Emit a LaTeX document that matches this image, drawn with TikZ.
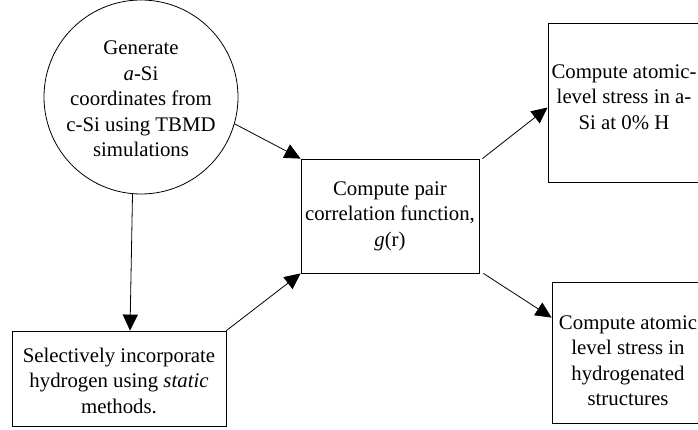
\documentclass[tikz,border=0pt]{standalone}
\usepackage{fontspec}
\setmainfont{Liberation Serif}
\usetikzlibrary{arrows.meta}
\tikzset{
  txt/.style={align=center, font=\fontsize{20.8pt}{25.5pt}\selectfont, inner sep=0pt},
  box/.style={draw, line width=0.8pt, rectangle, inner sep=0pt, txt},
  ball/.style={draw, line width=0.8pt, circle, inner sep=0pt},
  arr/.style={line width=0.8pt, -{Triangle[length=16pt,width=15pt]}}
}
\begin{document}
\begin{tikzpicture}[x=1pt,y=-1pt]
\useasboundingbox (0,0) rectangle (698,430);
\clip (0,0) rectangle (698,430);
\node[ball, minimum size=194pt,
  label={[txt, yshift=-2pt]center:Generate\\\textit{a}-Si\\coordinates from\\c-Si using TBMD\\simulations}]
  (gen) at (141,97) {};
\node[box, minimum width=214pt, minimum height=95pt,
  label={[txt, yshift=-2pt]center:Selectively incorporate\\hydrogen using \textit{static}\\methods.}]
  (sel) at (119,378.5) {};
\node[box, minimum width=178pt, minimum height=114pt] (mid) at (390,216)
  {Compute pair\\correlation function,\\\textit{g}(r)};
\node[box, minimum width=152pt, minimum height=159pt,
  label={[txt, yshift=5.5pt]center:Compute atomic-\\level stress in a-\\Si at 0\% H}]
  (tr) at (624,102.5) {};
\node[box, minimum width=152pt, minimum height=141pt,
  label={[txt, yshift=-8pt]center:Compute atomic\\level stress in\\hydrogenated\\structures}]
  (br) at (628,352.5) {};
\draw[arr] (gen.265) -- ([xshift=11pt]sel.north);
\draw[arr] (gen.-16) -- (mid.north west);
\draw[arr] (sel.north east) -- (mid.south west);
\draw[arr] ([xshift=3pt]mid.north east) -- ([yshift=-5pt]tr.west);
\draw[arr] ([xshift=4pt]mid.south east) -- ([yshift=-36pt]br.north west);
\end{tikzpicture}
\end{document}
